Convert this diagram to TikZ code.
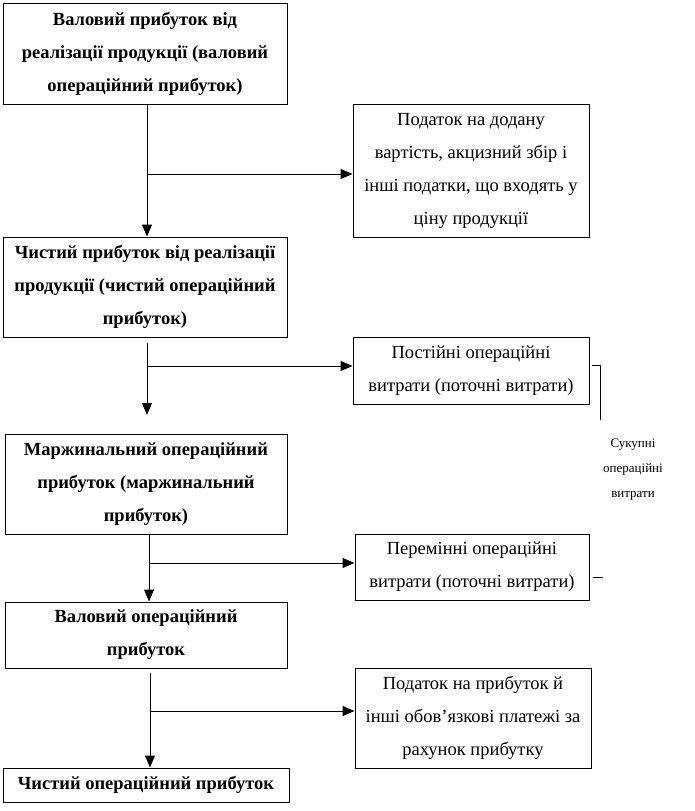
\documentclass[tikz,border=0pt]{standalone}
\usepackage{fontspec}
\setmainfont{Liberation Serif}
\usetikzlibrary{arrows.meta}
\begin{document}
\begin{tikzpicture}[x=1pt,y=-1pt,
  box/.style={draw,line width=1pt,inner sep=0pt,align=center,anchor=center},
  bbox/.style={box,font=\fontsize{18.5}{33}\selectfont\bfseries},
  rbox/.style={box,font=\fontsize{18.5}{33}\selectfont},
  conn/.style={line width=1pt},
  arr/.style={line width=1pt,-{Triangle[length=12pt,width=10pt]}},
  small/.style={inner sep=0pt,align=center,font=\fontsize{13}{25}\selectfont}]
\useasboundingbox (0,0) rectangle (694,811);
\node[bbox,minimum width=284pt,minimum height=101pt] (b1) at (145,53.5)
  {Валовий прибуток від\\реалізації продукції (валовий\\операційний прибуток)};
\node[rbox,minimum width=236pt,minimum height=133pt] (b2) at (471,170.5)
  {Податок на додану\\вартість, акцизний збір і\\інші податки, що входять у\\ціну продукції};
\node[bbox,minimum width=284pt,minimum height=100pt] (b3) at (145,287)
  {Чистий прибуток від реалізації\\продукції (чистий операційний\\прибуток)};
\node[rbox,minimum width=236pt,minimum height=67pt] (b4) at (471,370.5)
  {Постійні операційні\\витрати (поточні витрати)};
\node[bbox,minimum width=282pt,minimum height=100pt] (b5) at (146,484)
  {Маржинальний операційний\\прибуток (маржинальний\\прибуток)};
\node[rbox,minimum width=234pt,minimum height=66pt] (b6) at (472,567)
  {Перемінні операційні\\витрати (поточні витрати)};
\node[bbox,minimum width=282pt,minimum height=66pt] (b7) at (146,635)
  {Валовий операційний\\прибуток};
\node[rbox,minimum width=236pt,minimum height=100pt] (b8) at (473,718)
  {Податок на прибуток й\\інші обов’язкові платежі за\\рахунок прибутку};
\node[bbox,minimum width=286pt,minimum height=34pt] (b9) at (146,785)
  {Чистий операційний прибуток};
\node[small] (sum) at (633,470) {Сукупні\\операційні\\витрати};
% connectors
\coordinate (j1) at (147,174);
\draw[arr] (b1.south -| j1) -- (b3.north -| j1);
\draw[arr] (j1) -- (b2.west |- j1);
\coordinate (s2) at (147,343);
\coordinate (e2) at (147,415);
\coordinate (j2) at (147,366);
\draw[arr] (s2) -- (e2);
\draw[arr] (j2) -- (b4.west |- j2);
\coordinate (j3) at (149,563);
\draw[arr] (b5.south -| j3) -- (b7.north -| j3);
\draw[arr] (j3) -- (b6.west |- j3);
\coordinate (s4) at (150,673);
\coordinate (j4) at (150,711);
\draw[arr] (s4) -- (b9.north -| s4);
\draw[arr] (j4) -- (b8.west |- j4);
% bracket
\coordinate (k1) at (592,365);
\coordinate (k2) at (600,365);
\coordinate (k3) at (600,420);
\draw[line width=0.8pt] (k1) -- (k2) -- (k3);
\coordinate (d1) at (593,577);
\coordinate (d2) at (603,577);
\draw[line width=0.8pt] (d1) -- (d2);
\end{tikzpicture}
\end{document}
